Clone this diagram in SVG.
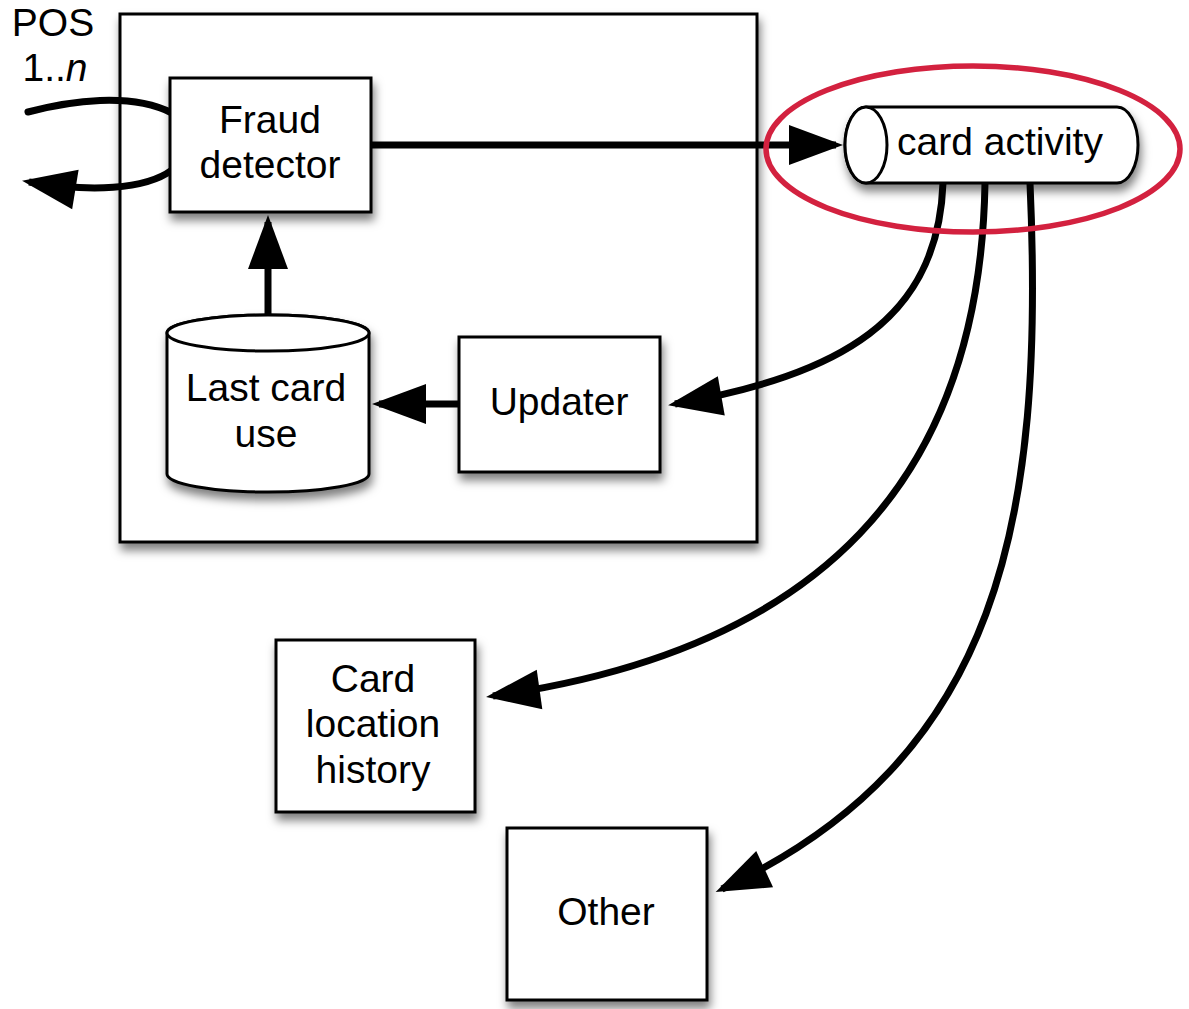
<svg xmlns="http://www.w3.org/2000/svg" width="1189" height="1009" viewBox="0 0 1189 1009">
  <defs>
    <filter id="shadow" x="-20%" y="-20%" width="140%" height="150%">
      <feDropShadow dx="2" dy="7" stdDeviation="5" flood-color="#000" flood-opacity="0.5"/>
    </filter>
    <marker id="arrow" markerUnits="userSpaceOnUse" markerWidth="56" markerHeight="42" refX="47" refY="20" orient="auto" overflow="visible">
      <path d="M0,0 L54,20 L0,40 Z" fill="#000"/>
    </marker>
    <style>
      .box { fill: #fff; stroke: #000; stroke-width: 3; }
      .edge { fill: none; stroke: #000; stroke-width: 7; marker-end: url(#arrow); }
      .plain { fill: none; stroke: #000; stroke-width: 7; stroke-linecap: round; }
      .label { font-family: "Liberation Sans", Arial, sans-serif; font-size: 39px; fill: #000; text-anchor: middle; }
    </style>
  </defs>
  <rect width="1189" height="1009" fill="#fff"/>

  <!-- processing container -->
  <g id="container">
    <rect class="box" x="120" y="14" width="637" height="528" filter="url(#shadow)"/>
  </g>

  <!-- connectors -->
  <g id="connectors">
    <path class="plain" d="M28,112 C70,101 130,92 172,113"/>
    <path class="edge" d="M172,170 C145,190 90,192 29,182"/>
    <path class="edge" d="M371,145 L836,145"/>
    <path class="edge" d="M268,317 L268,222"/>
    <path class="edge" d="M459,404 L379,404"/>
    <path class="edge" d="M943,183 C938,320 840,375 675,404"/>
    <path class="edge" d="M985,183 C980,480 820,650 493,696"/>
    <path class="edge" d="M1030,183 C1045,520 1000,760 722,889"/>
  </g>

  <!-- POS label -->
  <g id="pos">
    <text class="label" x="53" y="36">POS</text>
    <text class="label" x="55" y="81">1..<tspan font-style="italic">n</tspan></text>
  </g>

  <g id="fraud-detector">
    <rect class="box" x="170" y="78" width="201" height="134" filter="url(#shadow)"/>
    <text class="label" x="270" y="133">Fraud</text>
    <text class="label" x="270" y="178">detector</text>
  </g>

  <g id="last-card-use">
    <g filter="url(#shadow)">
      <path class="box" d="M167,333 V474 A101,18 0 0 0 369,474 V333 A101,18 0 0 0 167,333 Z"/>
      <ellipse class="box" cx="268" cy="333" rx="101" ry="18"/>
    </g>
    <text class="label" x="266" y="401">Last card</text>
    <text class="label" x="266" y="447">use</text>
  </g>

  <g id="updater">
    <rect class="box" x="459" y="337" width="201" height="135" filter="url(#shadow)"/>
    <text class="label" x="559" y="415">Updater</text>
  </g>

  <g id="card-activity">
    <g filter="url(#shadow)">
      <path class="box" d="M866,107 H1117 A21,38 0 0 1 1117,183 H866 A21,38 0 0 1 866,107 Z"/>
      <ellipse class="box" cx="866" cy="145" rx="21" ry="38"/>
    </g>
    <text class="label" x="1000" y="155">card activity</text>
  </g>

  <g id="card-location-history">
    <rect class="box" x="276" y="640" width="199" height="172" filter="url(#shadow)"/>
    <text class="label" x="373" y="692">Card</text>
    <text class="label" x="373" y="737">location</text>
    <text class="label" x="373" y="783">history</text>
  </g>

  <g id="other">
    <rect class="box" x="507" y="828" width="200" height="172" filter="url(#shadow)"/>
    <text class="label" x="606" y="925">Other</text>
  </g>

  <!-- highlight ring around the topic -->
  <g id="highlight">
    <ellipse cx="973" cy="149" rx="207" ry="83" fill="none" stroke="#d3213f" stroke-width="5.5"/>
  </g>
</svg>
